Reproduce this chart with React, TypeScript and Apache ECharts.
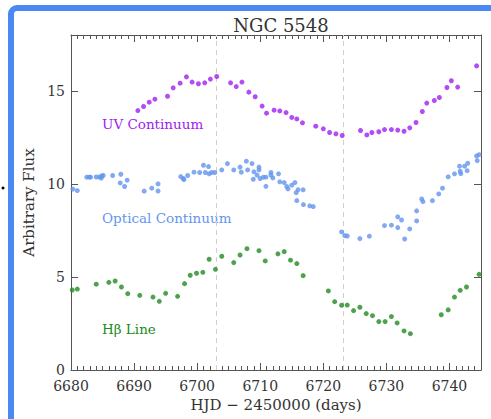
import React, { useEffect, useRef } from "react";
import * as echarts from "echarts";

const titleText = "NGC 5548";
const xName = "HJD \u2212 2450000 (days)";
const yName = "Arbitrary Flux";
const dashedDays = [6703.1, 6723.1];

const uvData: [number, number][] = [
  [6690.6, 13.94], [6691.5, 14.16], [6692.4, 14.39], [6693.3, 14.55], [6695.3, 14.71],
  [6696.2, 15.16], [6697.3, 15.41], [6698.3, 15.75], [6699.2, 15.47], [6700.2, 15.38],
  [6701.2, 15.43], [6702.1, 15.63], [6703.1, 15.77], [6705.3, 15.43], [6706.2, 15.23],
  [6707.1, 15.47], [6708.2, 14.93], [6709.2, 14.68], [6710.3, 14.18], [6711.0, 13.8],
  [6712.2, 13.96], [6713.1, 13.92], [6714.1, 13.83], [6715.0, 13.57], [6715.8, 13.49],
  [6716.7, 13.28], [6718.8, 13.1], [6720.0, 12.96], [6721.0, 12.76], [6722.0, 12.69],
  [6723.0, 12.6], [6725.9, 12.87], [6726.9, 12.63], [6727.7, 12.76], [6728.8, 12.8],
  [6729.7, 12.92], [6730.8, 12.92], [6731.8, 12.89], [6732.8, 12.83], [6733.7, 13.01],
  [6734.7, 13.3], [6735.7, 13.89], [6736.4, 14.34], [6737.6, 14.48], [6738.4, 14.64],
  [6739.6, 15.18], [6740.3, 15.54], [6741.3, 15.2], [6744.3, 16.34],
];

const opticalData: [number, number][] = [
  [6680.3, 9.72], [6681.0, 9.64], [6682.5, 10.36], [6682.9, 10.36], [6683.1, 10.36],
  [6684.0, 10.37], [6684.5, 10.37], [6684.8, 10.31], [6684.9, 10.43], [6685.1, 10.45],
  [6686.6, 10.45], [6687.9, 10.52], [6687.8, 10.05], [6688.5, 9.86], [6688.9, 10.2],
  [6691.6, 9.61], [6692.8, 9.77], [6693.8, 10.0], [6693.8, 9.62], [6697.4, 10.39],
  [6697.8, 10.29], [6697.9, 10.23], [6698.5, 10.45], [6699.5, 10.63], [6700.4, 10.61],
  [6701.0, 11.0], [6701.3, 10.61], [6701.8, 10.93], [6701.9, 10.54], [6702.3, 10.61],
  [6702.8, 10.61], [6703.9, 10.75], [6704.8, 11.09], [6705.8, 10.75], [6706.8, 10.9],
  [6707.0, 10.63], [6707.8, 11.22], [6708.0, 10.75], [6708.7, 11.09], [6708.9, 10.25],
  [6709.0, 10.65], [6709.5, 10.47], [6709.8, 10.9], [6709.8, 10.75], [6710.0, 10.29],
  [6710.5, 10.36], [6710.9, 10.36], [6710.9, 9.87], [6711.7, 10.61], [6711.7, 10.47],
  [6712.0, 10.32], [6712.9, 10.54], [6713.1, 10.11], [6713.8, 10.07], [6714.2, 9.86],
  [6714.4, 9.73], [6715.0, 9.93], [6715.5, 10.07], [6715.7, 9.53], [6716.0, 9.69],
  [6716.8, 9.68], [6715.8, 9.1], [6716.85, 8.89], [6717.85, 8.82], [6718.4, 8.78],
  [6722.9, 7.42], [6723.4, 7.22], [6723.8, 7.2], [6725.8, 7.06], [6727.3, 7.19],
  [6729.7, 7.76], [6730.8, 7.78], [6731.8, 8.23], [6731.8, 7.65], [6732.4, 8.06],
  [6732.9, 7.04], [6733.7, 7.58], [6734.8, 8.55], [6734.8, 8.01], [6735.6, 9.19],
  [6735.8, 9.05], [6737.3, 9.1], [6738.3, 9.46], [6738.9, 9.77], [6739.8, 10.38],
  [6740.8, 10.54], [6741.6, 10.95], [6741.7, 10.68], [6741.8, 10.55], [6742.4, 10.95],
  [6742.8, 10.71], [6742.9, 11.11], [6744.3, 11.5], [6744.4, 11.25], [6744.7, 11.57],
];

const hbetaData: [number, number][] = [
  [6680.2, 4.3], [6681.0, 4.35], [6684.0, 4.61], [6686.0, 4.71], [6687.0, 4.78],
  [6688.0, 4.46], [6689.0, 4.1], [6690.9, 4.01], [6693.0, 3.92], [6694.0, 3.69],
  [6695.0, 4.12], [6696.9, 3.96], [6698.0, 4.64], [6698.9, 5.09], [6699.9, 5.2],
  [6700.9, 5.25], [6701.9, 5.95], [6702.9, 5.41], [6703.9, 6.11], [6705.8, 5.77],
  [6706.8, 6.18], [6707.9, 6.52], [6709.8, 6.41], [6710.8, 5.86], [6712.8, 6.24],
  [6713.8, 6.36], [6714.8, 5.9], [6715.8, 5.72], [6716.8, 5.07], [6720.8, 4.25],
  [6721.8, 3.67], [6722.9, 3.48], [6723.8, 3.49], [6724.8, 3.19], [6725.8, 3.37],
  [6726.8, 3.03], [6727.8, 2.92], [6728.8, 2.6], [6729.8, 2.6], [6730.8, 2.87],
  [6731.7, 2.53], [6732.8, 2.1], [6733.8, 1.95], [6738.7, 2.97], [6739.8, 3.23],
  [6740.8, 3.92], [6741.7, 4.28], [6742.7, 4.46], [6744.7, 5.14],
];

const seriesNames = ["UV Continuum", "Optical Continuum", "H\u03B2 Line"];
const seriesColors = ["#a020f0", "#6495ed", "#228b22"];

const FONT = "DejaVu Serif";
const AXIS_COLOR = "#555";
const TEXT_COLOR = "#333";

export default function App() {
  const ref = useRef<HTMLDivElement>(null);
  useEffect(() => {
    if (!ref.current) return;
    const chart = echarts.init(ref.current, null, { renderer: "svg" });
    const commonX = {
      type: "value" as const,
      min: 6680,
      max: 6745,
      interval: 10,
      axisLine: { show: true, onZero: false, lineStyle: { color: AXIS_COLOR, width: 1 } },
      axisTick: { show: true, inside: true, length: 7, lineStyle: { color: AXIS_COLOR } },
      minorTick: { show: true, splitNumber: 10, length: 4, lineStyle: { color: AXIS_COLOR } },
      splitLine: { show: false },
      minorSplitLine: { show: false },
    };
    const commonY = {
      type: "value" as const,
      min: 0,
      max: 18,
      interval: 5,
      axisLine: { show: true, onZero: false, lineStyle: { color: AXIS_COLOR, width: 1 } },
      axisTick: { show: true, inside: true, length: 7, lineStyle: { color: AXIS_COLOR } },
      splitLine: { show: false },
    };
    const data = [uvData, opticalData, hbetaData];
    chart.setOption({
      animation: false,
      backgroundColor: "#fff",
      title: {
        text: titleText,
        left: 276,
        textAlign: "center",
        top: 11,
        textStyle: { fontFamily: FONT, fontSize: 18, fontWeight: "normal", color: TEXT_COLOR },
      },
      grid: { left: 71, right: 10, top: 35, bottom: 49 },
      xAxis: [
        {
          ...commonX,
          position: "bottom",
          name: xName,
          nameLocation: "middle",
          nameGap: 27,
          nameTextStyle: { fontFamily: FONT, fontSize: 15, color: TEXT_COLOR },
          axisLabel: {
            fontFamily: FONT,
            fontSize: 14,
            color: TEXT_COLOR,
            margin: 9,
            formatter: (v: number) => String(v),
          },
        },
        {
          ...commonX,
          position: "top",
          axisLabel: { show: false },
        },
      ],
      yAxis: [
        {
          ...commonY,
          position: "left",
          name: yName,
          nameLocation: "middle",
          nameGap: 34,
          nameTextStyle: { fontFamily: FONT, fontSize: 15, color: TEXT_COLOR },
          axisLabel: {
            fontFamily: FONT,
            fontSize: 14,
            color: TEXT_COLOR,
            margin: 6,
            formatter: (v: number) => (v % 5 === 0 ? String(v) : ""),
          },
        },
        {
          ...commonY,
          position: "right",
          axisLabel: { show: false },
        },
      ],
      series: data.map((d, i) => ({
        type: "scatter",
        name: seriesNames[i],
        data: d,
        symbol: "circle",
        symbolSize: 5,
        itemStyle: { color: seriesColors[i] },
        clip: false,
        silent: true,
        z: 3,
        markLine:
          i === 0
            ? {
                silent: true,
                symbol: "none",
                label: { show: false },
                lineStyle: { color: "#d0d0d0", type: [5, 4], width: 1 },
                data: dashedDays.map((x) => ({ xAxis: x })),
                z: 1,
              }
            : undefined,
      })),
      graphic: [
        {
          type: "rect",
          shape: { x: 11, y: 8, width: 500, height: 430, r: 6 },
          style: { fill: "none", stroke: "#4a89f3", lineWidth: 6 },
          silent: true,
        },
        {
          type: "circle",
          shape: { cx: 3, cy: 188, r: 1.5 },
          style: { fill: "#000" },
          silent: true,
        },
        {
          type: "text",
          x: 102,
          y: 124,
          style: {
            text: seriesNames[0],
            fill: seriesColors[0],
            font: `13.5px "${FONT}"`,
            verticalAlign: "middle",
          },
        },
        {
          type: "text",
          x: 102,
          y: 218,
          style: {
            text: seriesNames[1],
            fill: seriesColors[1],
            font: `13.5px "${FONT}"`,
            verticalAlign: "middle",
          },
        },
        {
          type: "text",
          x: 102,
          y: 329,
          style: {
            text: seriesNames[2],
            fill: seriesColors[2],
            font: `13.5px "${FONT}"`,
            verticalAlign: "middle",
          },
        },
      ],
    });
    return () => chart.dispose();
  }, []);
  return (
    <div style={{ position: "fixed", left: 0, top: 0, width: 491, height: 419 }}>
      <div ref={ref} style={{ width: 491, height: 419 }} />
    </div>
  );
}
